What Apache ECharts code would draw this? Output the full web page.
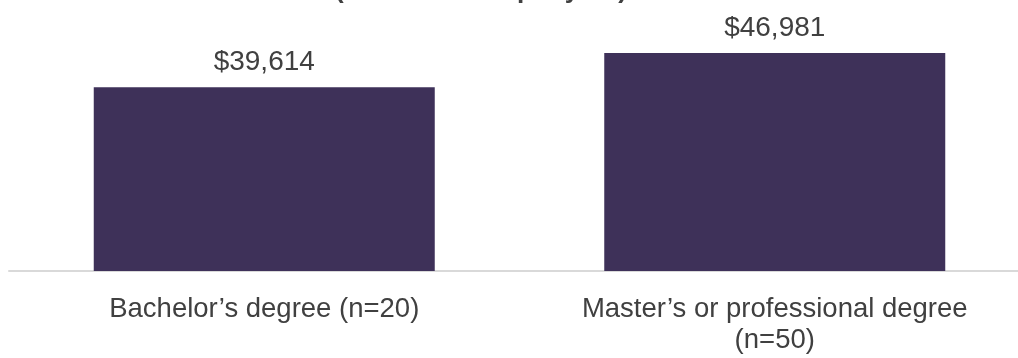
<!DOCTYPE html>
<html>
<head>
<meta charset="utf-8">
<script src="https://cdn.jsdelivr.net/npm/echarts@6/dist/echarts.min.js"></script>
<style>
html,body{margin:0;padding:0;background:#fff;}
#chart{width:1018px;height:358px;}
</style>
</head>
<body>
<div id="chart"></div>
<script>
const titleText = "(mean income per year)";
const categories = ["Bachelor\u2019s degree (n=20)", "Master\u2019s or professional degree\n(n=50)"];
const values = [39614, 46981];

const chart = echarts.init(document.getElementById('chart'), null, {renderer: 'canvas'});
chart.setOption({
  animation: false,
  backgroundColor: '#ffffff',
  title: {
    text: titleText,
    left: 335,
    top: -22,
    padding: 0,
    textStyle: {fontFamily: 'Liberation Sans, Arial, sans-serif', fontSize: 26, fontWeight: 'bold', color: '#404040'}
  },
  grid: {left: 9, width: 1021, top: 39, bottom: 87, containLabel: false, outerBoundsMode: 'none'},
  xAxis: {
    type: 'category',
    data: categories,
    axisLine: {show: true, lineStyle: {color: '#d9d9d9', width: 2}},
    axisTick: {show: false},
    axisLabel: {
      margin: 23,
      fontFamily: 'Liberation Sans, Arial, sans-serif',
      fontSize: 27.5,
      lineHeight: 31,
      color: '#404040',
      interval: 0
    }
  },
  yAxis: {
    type: 'value',
    min: 0,
    max: 50000,
    show: false,
    splitLine: {show: false}
  },
  series: [{
    type: 'bar',
    data: values,
    barWidth: 341,
    itemStyle: {color: '#3e3159'},
    label: {
      show: true,
      position: 'top',
      distance: 11,
      fontFamily: 'Liberation Sans, Arial, sans-serif',
      fontSize: 28,
      color: '#404040',
      formatter: p => '$' + p.value.toLocaleString('en-US')
    }
  }]
});
</script>
</body>
</html>
